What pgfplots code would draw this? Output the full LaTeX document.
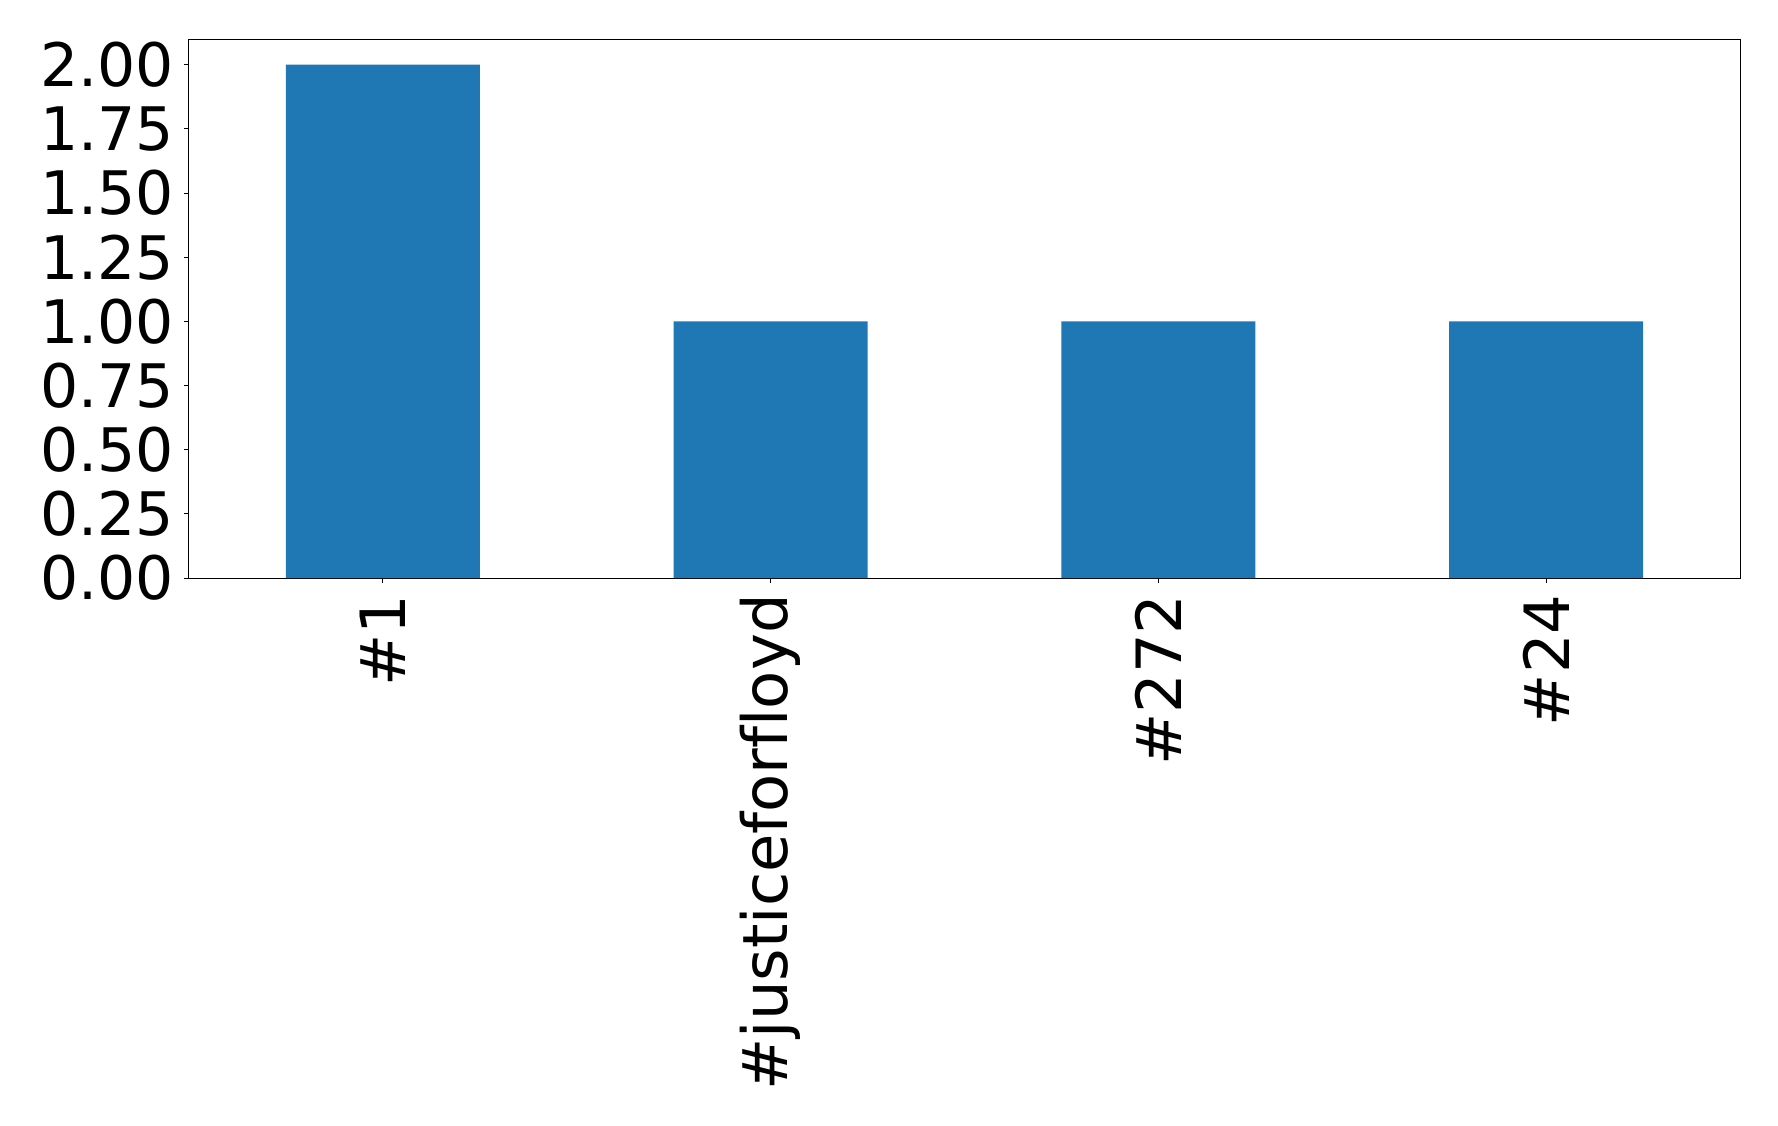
\documentclass[border=0pt]{standalone}
\usepackage{pgfplots}
\pgfplotsset{compat=1.18}
\usepackage{fontspec}
\setmainfont{DejaVu Sans}[Ligatures={NoCommon}]
\definecolor{tabblue}{HTML}{1F77B4}
\begin{document}
\begin{tikzpicture}
\useasboundingbox (-94.5pt,-273.5pt) rectangle (794.5pt,289pt);
\begin{axis}[
  at={(0,0)}, anchor=south west,
  scale only axis,
  width=775.5pt, height=269.5pt,
  xmin=-0.5, xmax=3.5, ymin=0, ymax=2.1,
  xtick={0,1,2,3},
  xticklabels={\#1,\#justicefor{}f{}loyd,\#272,\#24},
  ytick={0,0.25,0.5,0.75,1,1.25,1.5,1.75,2},
  yticklabel style={/pgf/number format/fixed,/pgf/number format/fixed zerofill,/pgf/number format/precision=2},
  /pgf/number format/assume math mode=true,
  tick label style={font=\fontsize{30}{36}\selectfont, text=black},
  x tick label style={rotate=90, anchor=east, inner sep=0pt, xshift=0pt, font=\fontsize{31.2}{37}\selectfont},
  xticklabel shift=5.5pt,
  yticklabel shift=5pt,
  y tick label style={inner sep=0pt},
  tick align=outside, tick pos=left,
  major tick length=2.5pt,
  every tick/.style={black, line width=0.5pt},
  axis line style={black, line width=0.5pt},
  ymajorgrids=false,
]
\addplot[ybar, bar width=0.5, fill=tabblue, draw=none] coordinates {(0,2) (1,1) (2,1) (3,1)};
\end{axis}
\end{tikzpicture}
\end{document}
